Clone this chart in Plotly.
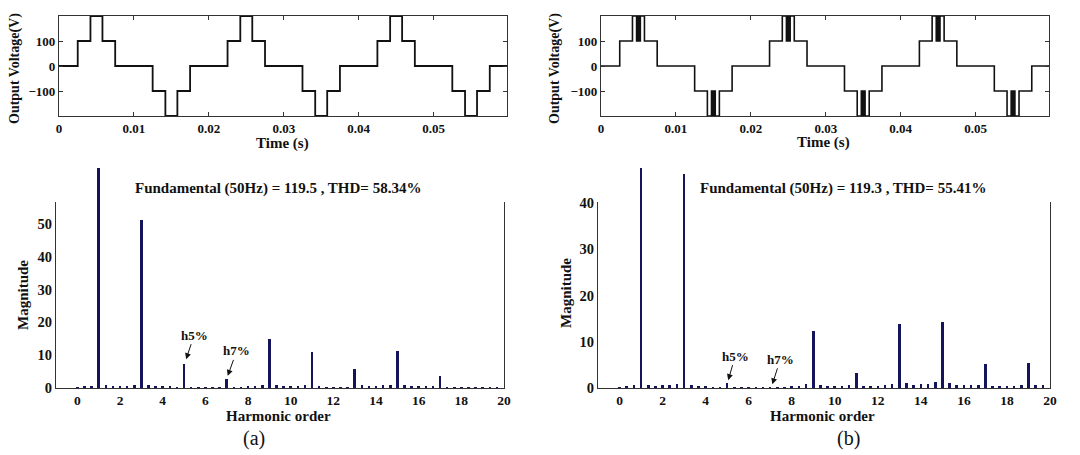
import plotly.graph_objects as go

W, H = 1080, 455
OFF = 8  # page body margin in the browser; layout pixel positions are shifted by it

# ---------------- data ----------------
# one 50 Hz period of the stepped output voltage: switching instants (s) and levels (V)
period = 0.02
n_periods = 3
t_end = 0.0598
sw_a_t = [0.0, 0.0025, 0.0042, 0.0058, 0.0075, 0.0125, 0.0142, 0.0158, 0.0175]
sw_a_v = [0, 100, 200, 100, 0, -100, -200, -100, 0]
sw_b_t = [0.0, 0.0025, 0.0042, 0.00475, 0.0049, 0.0051, 0.00525, 0.0058, 0.0075,
          0.0125, 0.0142, 0.01475, 0.0149, 0.0151, 0.01525, 0.0158, 0.0175]
sw_b_v = [0, 100, 200, 100, 200, 100, 200, 100, 0,
          -100, -200, -100, -200, -100, -200, -100, 0]

# FFT spectrum (3-cycle window -> 1/3 harmonic resolution), magnitude in % of fundamental
harm_order = [round(k / 3, 4) for k in range(60)]
mag_a = [0.1, 0.4, 0.6, 100, 0.8, 0.6, 0.7, 0.6, 1.0, 51.2,
         0.9, 0.5, 0.6, 0.4, 0.3, 7.2, 0.3, 0.3, 0.3, 0.3,
         0.3, 2.6, 0.3, 0.3, 0.4, 0.6, 0.8, 15.0, 1.0, 0.6,
         0.6, 0.6, 0.9, 11.0, 0.6, 0.3, 0.3, 0.3, 0.3, 5.8,
         0.8, 0.6, 0.7, 0.8, 1.0, 11.2, 1.0, 0.6, 0.6, 0.6,
         0.4, 3.6, 0.3, 0.3, 0.3, 0.3, 0.3, 0.3, 0.3, 0.3]
mag_b = [0.1, 0.3, 0.6, 100, 0.7, 0.4, 0.6, 0.6, 0.8, 46.3,
         0.7, 0.5, 0.4, 0.2, 0.2, 1.0, 0.2, 0.2, 0.2, 0.2,
         0.2, 0.2, 0.2, 0.2, 0.3, 0.5, 0.8, 12.3, 0.7, 0.5,
         0.5, 0.5, 0.6, 3.3, 0.3, 0.3, 0.3, 0.6, 0.9, 13.8,
         1.0, 0.7, 0.8, 0.9, 1.4, 14.2, 1.1, 0.6, 0.6, 0.6,
         0.7, 5.1, 0.5, 0.4, 0.4, 0.4, 0.6, 5.5, 0.7, 0.6]

title_a = "Fundamental (50Hz) = 119.5 , THD= 58.34%"
title_b = "Fundamental (50Hz) = 119.3 , THD= 55.41%"
ymax_a = 56.4
ymax_b = 40.0


def tile(ts, vs):
    t, v = [], []
    for p in range(n_periods):
        t += [x + p * period for x in ts]
        v += vs
    t.append(t_end)
    v.append(v[-1])
    return t, v


wa_t, wa_v = tile(sw_a_t, sw_a_v)
wb_t, wb_v = tile(sw_b_t, sw_b_v)

# ---------------- layout helpers ----------------
def dx(a, b):
    return [(a - OFF) / W, (b - OFF) / W]


def dy(top, bottom):
    return [1 - (bottom - OFF) / H, 1 - (top - OFF) / H]


FONT = "Liberation Serif, Times New Roman, serif"
BAR = "#14145a"
AX = "#333333"

fig = go.Figure()

fig.add_trace(go.Scatter(x=wa_t, y=wa_v, mode="lines", line=dict(color="#111", width=1.8, shape="hv"),
                         xaxis="x", yaxis="y", showlegend=False))
fig.add_trace(go.Scatter(x=wb_t, y=wb_v, mode="lines", line=dict(color="#111", width=1.6, shape="hv"),
                         xaxis="x2", yaxis="y2", showlegend=False))
fig.add_trace(go.Bar(x=harm_order, y=mag_a, width=0.12, marker=dict(color=BAR, line=dict(width=0)),
                     xaxis="x3", yaxis="y5", showlegend=False))
fig.add_trace(go.Bar(x=harm_order, y=mag_b, width=0.12, marker=dict(color=BAR, line=dict(width=0)),
                     xaxis="x4", yaxis="y6", showlegend=False))

tick_small = dict(family=FONT, size=13, color="#111", weight="bold")
tick_big = dict(family=FONT, size=13.5, color="#111", weight="bold")
title_font = dict(family=FONT, size=15, color="#111", weight="bold")

common = dict(showgrid=False, zeroline=False, showline=True, linecolor=AX, linewidth=1.2,
              mirror="ticks", ticks="inside", ticklen=4, tickcolor=AX, automargin=False)

top_y_dom = dy(16, 116)
bot_y_dom = dy(203, 388)
ext_y_dom = dy(168, 388)
ext_factor = (ext_y_dom[1] - ext_y_dom[0]) / (bot_y_dom[1] - bot_y_dom[0])

wave_x = dict(common, range=[0, t_end], tickvals=[0, 0.01, 0.02, 0.03, 0.04, 0.05],
              ticktext=["0", "0.01", "0.02", "0.03", "0.04", "0.05"], tickfont=tick_small)
wave_y = dict(common, range=[-200, 200], tickvals=[-100, 0, 100], tickfont=tick_small)
harm_x = dict(common, range=[-1, 20], tickvals=list(range(0, 21, 2)), tickfont=tick_big)
harm_y = dict(common, dtick=10, tickfont=dict(tick_big, size=14.5))
hidden_y = dict(visible=False, showgrid=False, zeroline=False, automargin=False)

fig.update_layout(
    width=W, height=H, margin=dict(l=0, r=0, t=0, b=0, autoexpand=False),
    paper_bgcolor="white", plot_bgcolor="white", bargap=0,
    xaxis=dict(wave_x, domain=dx(59, 507), anchor="y"),
    yaxis=dict(wave_y, domain=top_y_dom, anchor="x"),
    xaxis2=dict(wave_x, domain=dx(601, 1049), anchor="y2"),
    yaxis2=dict(wave_y, domain=top_y_dom, anchor="x2"),
    xaxis3=dict(harm_x, domain=dx(56, 504), anchor="y3"),
    yaxis3=dict(harm_y, domain=bot_y_dom, anchor="x3", range=[0, ymax_a]),
    xaxis4=dict(harm_x, domain=dx(598, 1050), anchor="y4"),
    yaxis4=dict(harm_y, domain=bot_y_dom, anchor="x4", range=[0, ymax_b]),
    yaxis5=dict(hidden_y, domain=ext_y_dom, anchor="x3", range=[0, ymax_a * ext_factor]),
    yaxis6=dict(hidden_y, domain=ext_y_dom, anchor="x4", range=[0, ymax_b * ext_factor]),
)

ann = []


def text(x, y, s, font, angle=0):
    ann.append(dict(x=(x - OFF) / W, y=1 - (y - OFF) / H, xref="paper", yref="paper", text=s,
                    showarrow=False, font=font, textangle=angle, xanchor="center", yanchor="middle"))


lab14 = dict(family=FONT, size=14, color="#111", weight="bold")
lab15 = dict(family=FONT, size=15, color="#111", weight="bold")
text(15, 69, "Output Voltage(V)", lab14, -90)
text(282, 143, "Time (s)", lab15)
text(555, 69, "Output Voltage(V)", lab14, -90)
text(823, 142, "Time (s)", lab15)
text(23, 295, "Magnitude", lab15, -90)
text(278, 416, "Harmonic order", lab15)
text(566, 293, "Magnitude", lab15, -90)
text(822, 416, "Harmonic order", lab15)
text(278, 189, title_a, title_font)
text(843, 189, title_b, title_font)
text(254, 438, "(a)", dict(family=FONT, size=20, color="#111"))
text(848, 438, "(b)", dict(family=FONT, size=20, color="#111"))

small = dict(family=FONT, size=13, color="#111", weight="bold")


def arrow(xr, yr, x, y, s, axp, ayp):
    ann.append(dict(x=x, y=y, xref=xr, yref=yr, text=s, showarrow=True, ax=axp, ay=ayp,
                    arrowhead=2, arrowsize=1.2, arrowwidth=1, arrowcolor="#111", font=small,
                    standoff=0, startstandoff=0))


arrow("x3", "y3", 5.1, 8.8, "h5%", 8, -24)
arrow("x3", "y3", 7.05, 3.7, "h7%", 9, -25)
arrow("x4", "y4", 5.05, 1.7, "h5%", 7, -24)
arrow("x4", "y4", 7.1, 0.8, "h7%", 8, -25)

fig.update_layout(annotations=ann)
fig.write_html("out.html")
